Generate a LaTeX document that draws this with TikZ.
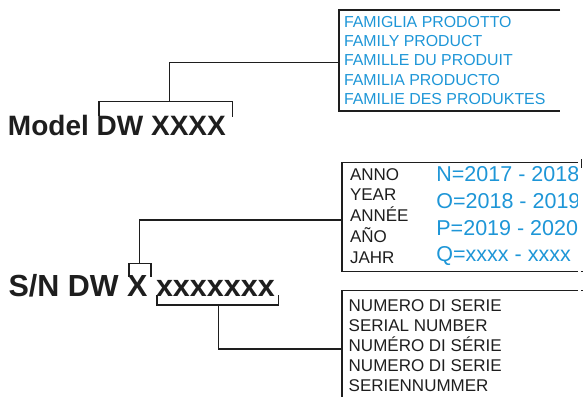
\documentclass[tikz,border=0pt]{standalone}
\usepackage{fontspec}
\setmainfont{Liberation Sans}
\definecolor{labelblue}{RGB}{30,150,215}
\definecolor{inkblack}{RGB}{30,30,30}
\tikzset{
  txt/.style={anchor=base west, inner sep=0pt, outer sep=0pt},
  famtxt/.style={txt, text=labelblue, font=\fontsize{15.9}{19}\selectfont},
  blacktxt/.style={txt, text=inkblack, font=\fontsize{17}{20}\selectfont},
  bluetxt/.style={txt, text=labelblue, font=\fontsize{21.5}{25}\selectfont},
  bigtxt/.style={txt, text=inkblack, font=\bfseries\fontsize{28}{32}\selectfont},
  sntxt/.style={txt, text=inkblack, font=\bfseries\fontsize{30.5}{34}\selectfont},
  thickbox/.style={draw=inkblack, line width=1.8pt},
  thinbox/.style={draw=inkblack, line width=1.3pt},
  conn/.style={draw=inkblack, line width=1.3pt},
  brack/.style={draw=inkblack, line width=1.5pt},
  frag/.style={draw=inkblack, line width=1pt},
}
\begin{document}
\begin{tikzpicture}[x=1pt,y=-1pt]
\useasboundingbox (0,0) rectangle (583,396);

% ---------- Model section ----------
\node[bigtxt] (model) at (8,135) {Model DW XXXX};
\coordinate (mbl) at (99,116);
\coordinate (mbr) at (232.3,116.5);
\coordinate (mstem) at (169.3,101.7);
\coordinate (fambend) at (169.3,62.7);
\coordinate (famjoin) at (339,62.7);
\path[brack] (mbl) -- (99,101.7) -- (232.3,101.7) -- (mbr);
\path[conn] (mstem) -- (fambend) -- (famjoin);

% family box
\path[thickbox] (560,10) -- (339,10) -- (339,110.7) -- (560,110.7);
\foreach \t [count=\i] in {FAMIGLIA PRODOTTO, FAMILY PRODUCT, FAMILLE DU PRODUIT, FAMILIA PRODUCTO, FAMILIE DES PRODUKTES}
  \node[famtxt, name=fam\i] at (344,{27.3+19.25*(\i-1)}) {\t};

% ---------- S/N section ----------
\node[sntxt] (sn) at (8.6,296.7) {S/N DW X xxxxxxx};

% bracket above X
\coordinate (xl) at (129,276.5);
\coordinate (xr) at (151,276.5);
\coordinate (xstem) at (139.3,263.3);
\coordinate (yearbend) at (139.3,220);
\coordinate (yearjoin) at (342,220);
\path[conn] (xl) -- (129,263.3) -- (151,263.3) -- (xr);
\path[conn] (xstem) -- (yearbend) -- (yearjoin);

% bracket below xxxxxxx
\coordinate (sl) at (157,295);
\coordinate (sr) at (278.5,295);
\coordinate (sstem) at (218.3,305);
\coordinate (serbend) at (218.3,349);
\coordinate (serjoin) at (342,349);
\path[conn] (sl) -- (157,305) -- (278.5,305) -- (sr);
\path[conn] (sstem) -- (serbend) -- (serjoin);

% year box
\path[thinbox] (578,162.7) -- (342,162.7) -- (342,271.5) -- (578,271.5);
\path[frag] (581.5,159) -- (581.5,167.5);
\path[frag] (580.8,271.5) -- (583,271.5);
\foreach \t [count=\i] in {ANNO, YEAR, ANNÉE, AÑO, JAHR}
  \node[blacktxt, name=yr\i] at (350,{180.2+20.75*(\i-1)}) {\t};
\begin{scope}
  \clip (0,0) rectangle (577.5,396);
  \foreach \t [count=\i] in {N=2017 - 2018, O=2018 - 2019, P=2019 - 2020, Q=xxxx - xxxx}
    \node[bluetxt, name=yb\i] at (436.4,{181.6+26.7*(\i-1)}) {\t};
\end{scope}

% serial box
\path[thinbox] (578,290.5) -- (342,290.5) -- (342,400);
\path[frag] (580.8,290.5) -- (583,290.5);
\foreach \t [count=\i] in {NUMERO DI SERIE, SERIAL NUMBER, NUMÉRO DI SÉRIE, NUMERO DI SERIE, SERIENNUMMER}
  \node[blacktxt, name=sr\i] at (348.7,{311.7+20*(\i-1)}) {\t};
\end{tikzpicture}
\end{document}
